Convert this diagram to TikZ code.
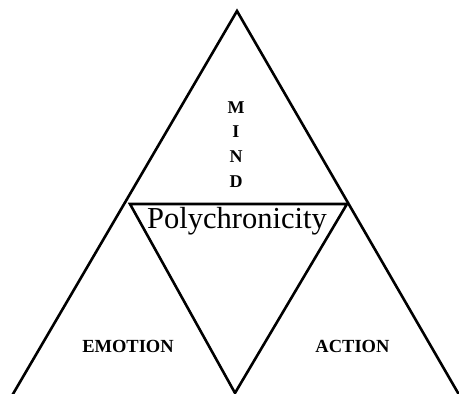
\documentclass[tikz,border=0pt]{standalone}
\usepackage{fontspec}
\setmainfont{Liberation Serif}
\begin{document}
\begin{tikzpicture}[x=1pt,y=-1pt,
  edge/.style={line width=2.6pt,line join=miter},
  lbl/.style={inner sep=0pt,font=\bfseries\fontsize{18.5}{18.5}\selectfont},
  mindl/.style={inner sep=0pt,font=\bfseries\fontsize{18}{18}\selectfont}]
\useasboundingbox (0,0) rectangle (459,394);
\begin{scope}
\clip (0,0) rectangle (459,394);
\coordinate (apex) at (237,11);
\coordinate (bl) at (12.4,395);
\coordinate (br) at (459.2,395);
\coordinate (il) at (130,204);
\coordinate (ir) at (347,204);
\coordinate (ib) at (235,393);
\draw[edge] (bl) -- (apex) -- (br);
\draw[edge] (il) -- (ir) -- (ib) -- cycle;
\end{scope}
\node[mindl,anchor=base] (m) at (236,113) {M};
\node[mindl,anchor=base] (i) at (236,137.5) {I};
\node[mindl,anchor=base] (n) at (236,162) {N};
\node[mindl,anchor=base] (d) at (236,187) {D};
\node[inner sep=0pt,anchor=base,font=\fontsize{30.5}{30.5}\selectfont] (poly) at (237,228) {Polychronicity};
\node[lbl,anchor=base] (emo) at (128,352) {EMOTION};
\node[lbl,anchor=base] (act) at (352.5,352) {ACTION};
\end{tikzpicture}
\end{document}
